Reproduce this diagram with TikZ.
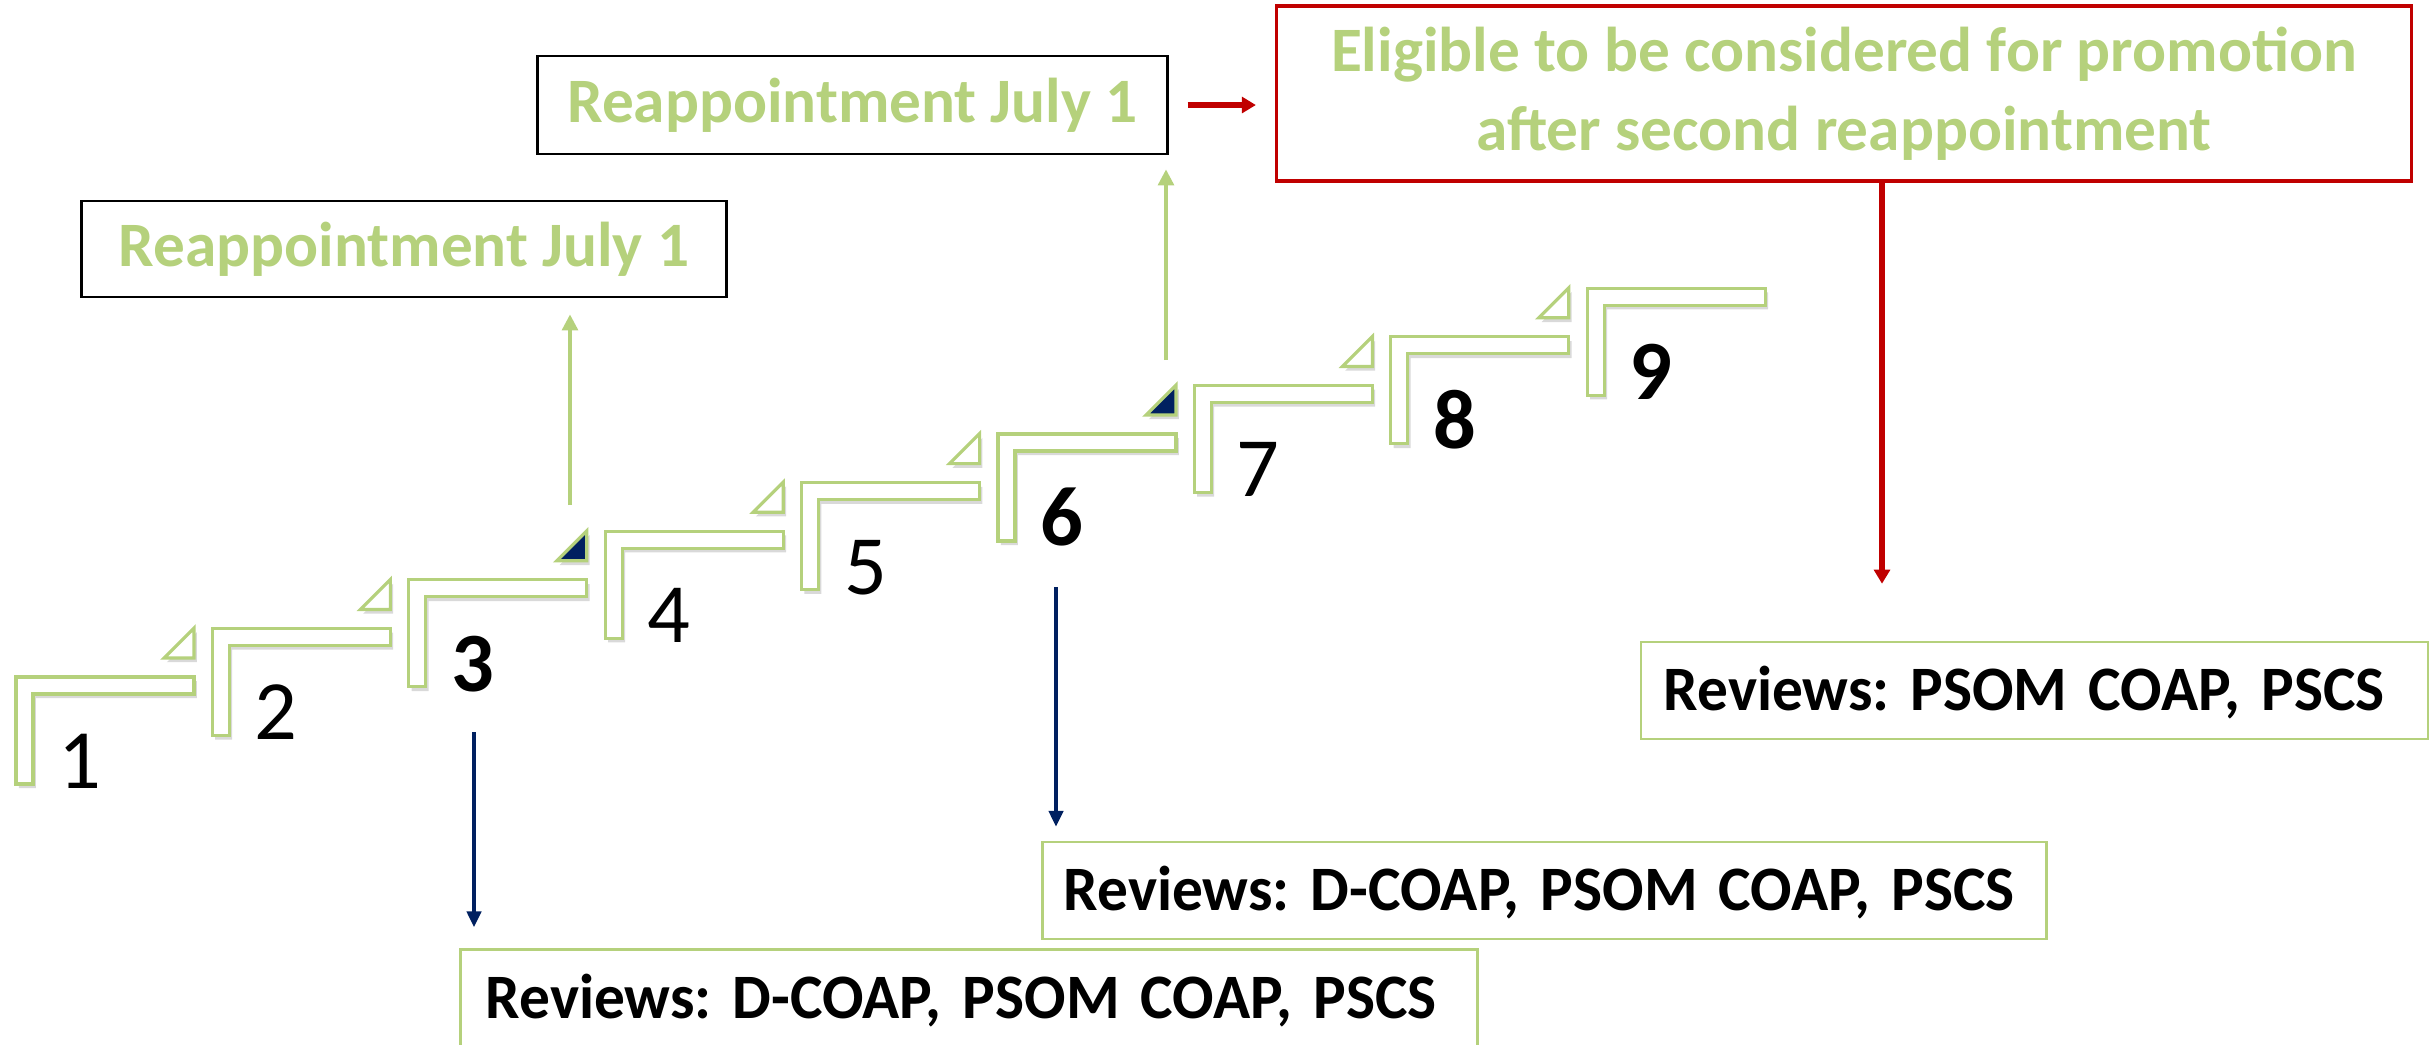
\documentclass[tikz,border=0pt]{standalone}
\usepackage{fontspec}
\setmainfont{Carlito}
\newfontfamily\revfont{Carlito}[WordSpace=0.75,FakeStretch=0.97]
\usetikzlibrary{arrows.meta,shadows}
\frenchspacing

\definecolor{leaf}{RGB}{181,209,124}
\definecolor{navy}{RGB}{0,32,96}
\definecolor{alert}{RGB}{192,0,0}

\begin{document}
\begin{tikzpicture}[x=0.01cm,y=-0.01cm,
      stair/.pic = {\draw[leaf,line width=0.9pt,fill=white,
          drop shadow={opacity=0.3,shadow xshift=0.8pt,shadow yshift=-1.2pt}]
          (0,0) -- (178,0) -- (178,17) -- (17,17) -- (17,107) -- (0,107) -- cycle;},
      wedge/.style = {leaf,line width=0.9pt,fill=white,
          drop shadow={opacity=0.3,shadow xshift=0.8pt,shadow yshift=-1.2pt}},
      num/.style = {inner sep=0,text height=15.2pt,text depth=0pt,
          font=\fontsize{24}{24}\selectfont},
      reap/.style = {draw,line width=0.8pt,inner sep=0,text=leaf,
          font=\bfseries\fontsize{18}{22.5}\selectfont},
      review/.style = {draw=leaf,line width=0.7pt,inner ysep=0,align=left,
          minimum height=0.97cm,text height=11.4pt,text depth=0pt,
          font=\revfont\bfseries\fontsize{18}{22}\selectfont},
      uparrow/.style = {leaf,line width=0.9pt,-{Triangle[length=4.5pt,width=4.5pt]}},
      downarrow/.style = {navy,line width=1.1pt,-{Triangle[length=4.5pt,width=4pt]}},
      redarrow/.style = {alert,line width=1.6pt,-{Triangle[length=4pt,width=4.5pt]}}]

  \clip (0,0) rectangle (2430,1044);

  % Steps
  \pic at (16,677) {stair};
  \pic at (212.4,628.4) {stair};
  \pic at (408.8,579.8) {stair};
  \pic at (605.2,531.2) {stair};
  \pic at (801.6,482.6) {stair};
  \pic at (998,434) {stair};
  \pic at (1194.4,385.4) {stair};
  \pic at (1390.8,336.8) {stair};
  \pic at (1587.2,288.2) {stair};

  % Corner marks between steps
  \draw[wedge] (194,628) -- ++(0,30) -- ++(-30,0) -- cycle;
  \draw[wedge] (390.4,579.4) -- ++(0,30) -- ++(-30,0) -- cycle;
  \draw[wedge,fill=navy] (586.8,530.8) -- ++(0,30) -- ++(-30,0) -- cycle;
  \draw[wedge] (783.2,482.2) -- ++(0,30) -- ++(-30,0) -- cycle;
  \draw[wedge] (979.6,433.6) -- ++(0,30) -- ++(-30,0) -- cycle;
  \draw[wedge,fill=navy] (1176,385) -- ++(0,30) -- ++(-30,0) -- cycle;
  \draw[wedge] (1372.4,336.4) -- ++(0,30) -- ++(-30,0) -- cycle;
  \draw[wedge] (1568.8,287.8) -- ++(0,30) -- ++(-30,0) -- cycle;

  % Step numbers
  \node[num] (n1) at (80,762) {1};
  \node[num] (n2) at (276,713) {2};
  \node[num,font=\bfseries\fontsize{24}{24}\selectfont] (n3) at (473,665) {3};
  \node[num] (n4) at (669,616) {4};
  \node[num] (n5) at (866,568) {5};
  \node[num,font=\bfseries\fontsize{24}{24}\selectfont] (n6) at (1062,519) {6};
  \node[num] (n7) at (1258,470) {7};
  \node[num,font=\bfseries\fontsize{24}{24}\selectfont] (n8) at (1455,422) {8};
  \node[num,font=\bfseries\fontsize{24}{24}\selectfont] (n9) at (1651,373) {9};

  % Reappointments
  \node[reap,minimum width=6.44cm,minimum height=0.96cm] (re1) at (404,249) {Reappointment July 1};
  \node[reap,minimum width=6.29cm,minimum height=0.98cm] (re2) at (852.5,105) {Reappointment July 1};
  \node[reap,draw=alert,line width=1pt,align=center,minimum width=11.34cm,minimum height=1.75cm]
    (elig) at (1844,93.5) {Eligible to be considered for promotion\\after second reappointment};

  % Reviews
  \node[review,inner xsep=0.25cm,text width=9.66cm] (rev1) at (969,998) {\mbox{Reviews: D-COAP, PSOM COAP, PSCS}};
  \node[review,inner xsep=0.21cm,text width=9.61cm] (rev2) at (1544.5,890.5) {\mbox{Reviews: D-COAP, PSOM COAP, PSCS}};
  \node[review,inner xsep=0.23cm,text width=7.41cm] (rev3) at (2034.5,690.5) {\mbox{Reviews: PSOM COAP, PSCS}};

  % Arrows
  \coordinate (up1) at (570,505);
  \coordinate (up2) at (1166,360);
  \coordinate (dn1) at (474,732);
  \coordinate (dn2) at (1056,587);
  \coordinate (dn3) at (1882,181);
  \draw[uparrow,shorten >=0.16cm] (up1) -- (up1 |- re1.south);
  \draw[uparrow,shorten >=0.14cm] (up2) -- (up2 |- re2.south);
  \draw[redarrow,shorten <=0.19cm,shorten >=0.19cm] (re2.east) -- (elig.west |- re2.east);
  \draw[redarrow,line width=1.5pt,shorten >=0.57cm] (dn3) -- (dn3 |- rev3.north);
  \draw[downarrow,shorten >=0.21cm] (dn1) -- (dn1 |- rev1.north);
  \draw[downarrow,shorten >=0.14cm] (dn2) -- (dn2 |- rev2.north);

\end{tikzpicture}
\end{document}
